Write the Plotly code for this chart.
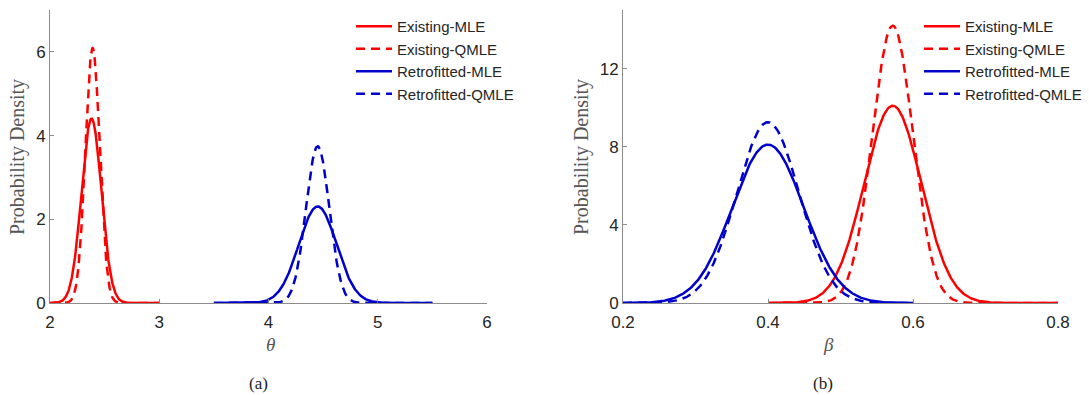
import numpy as np
import plotly.graph_objects as go

# Fitted normal densities of the two parameters
series_names = ["Existing-MLE", "Existing-QMLE", "Retrofitted-MLE", "Retrofitted-QMLE"]
series_colors = ["#ff0000", "#ff0000", "#0000cd", "#0000cd"]
series_dash = ["solid", "9px,6px", "solid", "9px,6px"]

# theta: means, standard deviations, evaluated support
theta_mean = [2.38, 2.39, 4.45, 4.45]
theta_sd = [0.0905, 0.0655, 0.173, 0.1065]
theta_lo = [2.0, 2.0, 3.5, 3.5]
theta_hi = [3.0, 3.0, 5.5, 5.5]

# beta: means, standard deviations, evaluated support
beta_mean = [0.572, 0.572, 0.400, 0.400]
beta_sd = [0.0395, 0.0281, 0.0492, 0.0431]
beta_lo = [0.4, 0.4, 0.2, 0.2]
beta_hi = [0.8, 0.8, 0.6, 0.6]

theta_ticks = [2, 3, 4, 5, 6]
beta_ticks = [0.2, 0.4, 0.6, 0.8]
theta_yticks = [0, 2, 4, 6]
beta_yticks = [0, 4, 8, 12]


def normal_pdf(x, mu, sd):
    return np.exp(-0.5 * ((x - mu) / sd) ** 2) / (sd * np.sqrt(2 * np.pi))


fig = go.Figure()

for i, name in enumerate(series_names):
    x = np.linspace(theta_lo[i], theta_hi[i], 400)
    fig.add_trace(go.Scatter(
        x=x, y=normal_pdf(x, theta_mean[i], theta_sd[i]), mode="lines", name=name,
        line=dict(color=series_colors[i], width=2.5, dash=series_dash[i]),
        xaxis="x", yaxis="y", legend="legend", hoverinfo="skip"))

for i, name in enumerate(series_names):
    x = np.linspace(beta_lo[i], beta_hi[i], 400)
    fig.add_trace(go.Scatter(
        x=x, y=normal_pdf(x, beta_mean[i], beta_sd[i]), mode="lines", name=name,
        line=dict(color=series_colors[i], width=2.5, dash=series_dash[i]),
        xaxis="x2", yaxis="y2", legend="legend2", hoverinfo="skip"))

W, H = 1089, 395
ydom = [1 - 303 / H, 1 - 10 / H]
tickfont = dict(family="Liberation Sans, Arial, sans-serif", size=17, color="#262626")
axis_common = dict(showgrid=False, zeroline=False, showline=True, linecolor="#8c8c8c",
                   linewidth=1, ticks="inside", ticklen=4, tickcolor="#8c8c8c",
                   tickfont=tickfont, fixedrange=True, automargin=False)
xaxis_extra = dict(ticklabelstandoff=4)

legend_common = dict(font=dict(family="Liberation Sans, Arial, sans-serif", size=15, color="#262626"),
                     bgcolor="rgba(255,255,255,0)", borderwidth=0, tracegroupgap=0,
                     xanchor="left", yanchor="top", itemwidth=36)

serif = "Liberation Serif, Times New Roman, serif"


def label(text, px, py, size, color="#555555", angle=0):
    return dict(text=text, x=px / W, y=1 - py / H, xref="paper", yref="paper",
                xanchor="center", yanchor="middle", textangle=angle, showarrow=False,
                font=dict(family=serif, size=size, color=color))


fig.update_layout(
    width=W, height=H, margin=dict(l=0, r=0, t=0, b=0, autoexpand=False),
    paper_bgcolor="white", plot_bgcolor="white", showlegend=True,
    xaxis=dict(domain=[50 / W, 487 / W], range=[2, 6], tickvals=theta_ticks, anchor="y",
               **axis_common, **xaxis_extra),
    yaxis=dict(domain=ydom, range=[0, 7], tickvals=theta_yticks, anchor="x", **axis_common),
    xaxis2=dict(domain=[623 / W, 1058 / W], range=[0.2, 0.8], tickvals=beta_ticks, anchor="y2",
                **axis_common, **xaxis_extra),
    yaxis2=dict(domain=ydom, range=[0, 15], tickvals=beta_yticks, anchor="x2", **axis_common),
    legend=dict(x=351 / W, y=1 - 10 / H, **legend_common),
    legend2=dict(x=919 / W, y=1 - 10 / H, **legend_common),
    annotations=[
        label("Probability Density", 17, 157, 20, angle=-90),
        label("Probability Density", 581, 157, 20, angle=-90),
        label("<i>θ</i>", 270, 344, 19),
        label("<i>β</i>", 828, 344, 19),
        label("(a)", 258, 383, 17, color="#222222"),
        label("(b)", 823, 383, 17, color="#222222"),
    ],
)

fig.write_html("out.html")
